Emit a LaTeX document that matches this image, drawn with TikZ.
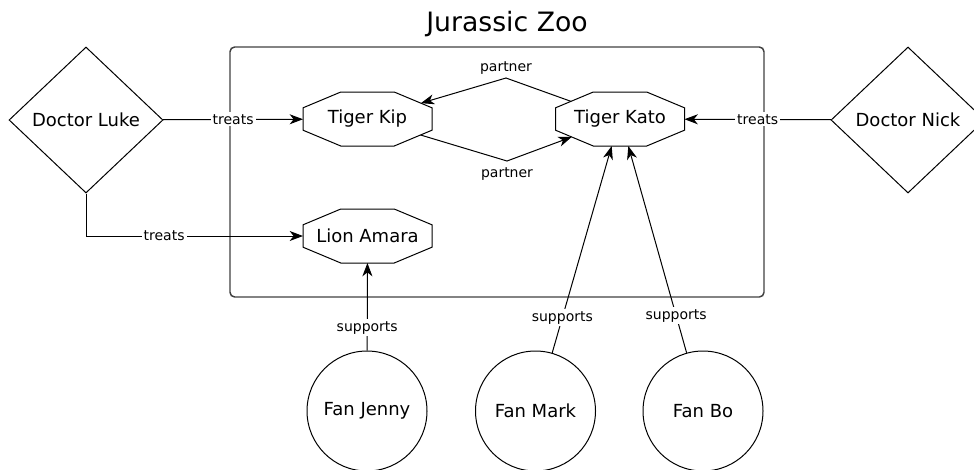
\documentclass[tikz,border=0pt]{standalone}
\usepackage{fontspec}
\setmainfont{DejaVu Sans}
\usetikzlibrary{shapes.geometric,arrows.meta}

\begin{document}
\begin{tikzpicture}[x=0.75pt, y=-0.75pt, line width=0.75pt,
  doctor/.style={draw, diamond, minimum width=115.5pt, minimum height=109.5pt,
    inner sep=0pt, font=\fontsize{13.5}{16}\selectfont},
  octagon/.style={draw, regular polygon, regular polygon sides=8,
    minimum size=10.824pt, inner sep=0pt, outer sep=0pt, transform shape},
  animal/.style={inner sep=0pt, font=\fontsize{13.5}{16}\selectfont},
  fan/.style={draw, circle, minimum size=90pt, inner sep=0pt,
    font=\fontsize{13.5}{16}\selectfont},
  rel/.style={fill=white, inner sep=1.5pt, font=\fontsize{10.5}{12}\selectfont},
  link/.style={-{Stealth[length=10pt, width=7.5pt, inset=3pt]}}]
  \clip (0,0) rectangle (974,469);

  % the zoo
  \draw[draw=black!75, line width=1.1pt, rounded corners=3.5pt] (230,47) rectangle (764,297);
  \node[font=\fontsize{20}{24}\selectfont] (title) at (507,24) {Jurassic Zoo};

  % doctors
  \node[doctor] (luke) at (86,120) {Doctor Luke};
  \node[doctor] (nick) at (908,120) {Doctor Nick};

  % animals (stretched octagons)
  \foreach \name/\x/\y/\txt in {kip/367.5/119/Tiger Kip,
      kato/620/119/Tiger Kato, lion/367.5/236/Lion Amara} {
    \begin{scope}[shift={(\x,\y)}, xscale=9.675, yscale=4.05]
      \node[octagon] (\name) at (0,0) {};
    \end{scope}
    \node[animal] (\name-text) at (\name) {\txt};
  }

  % fans
  \node[fan] (jenny) at (367,411) {Fan Jenny};
  \node[fan] (mark) at (535.5,411) {Fan Mark};
  \node[fan] (bo) at (703,411) {Fan Bo};

  \coordinate (ptop) at (506,78);
  \coordinate (pbot) at (507,161);

  % treats
  \draw[link] (luke) -- node[rel]{treats} (kip);
  \draw[link] (luke.south) |- node[rel, pos=0.68]{treats} (lion.west);
  \draw[link] (nick) -- node[rel]{treats} (kato);

  % partners
  \draw[link] (kato) -- (ptop) -- (kip);
  \node[rel, above=1pt] (ptoplabel) at (ptop) {partner};
  \draw[link] (kip) -- (pbot) -- (kato);
  \node[rel, below=3pt] (pbotlabel) at (pbot) {partner};

  % supports
  \draw[link] (jenny) -- node[rel, pos=0.26]{supports} (lion);
  \draw[link] (mark) -- node[rel, pos=0.17]{supports} ([xshift=-6.25pt]kato.south);
  \draw[link] (bo) -- node[rel, pos=0.18]{supports} ([xshift=6.25pt]kato.south);
\end{tikzpicture}
\end{document}
